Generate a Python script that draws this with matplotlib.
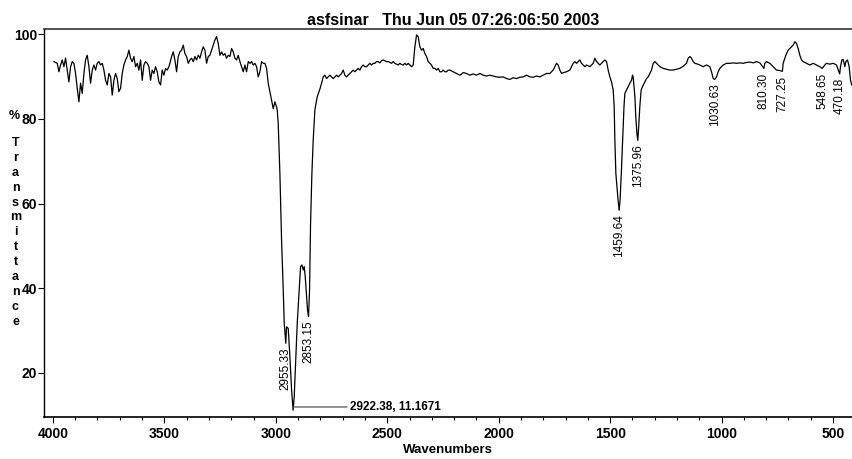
import matplotlib
matplotlib.use('Agg')
import matplotlib.pyplot as plt
from matplotlib.ticker import MultipleLocator
import numpy as np

plt.rcParams['font.family'] = ['Liberation Sans', 'DejaVu Sans']
plt.rcParams['font.weight'] = 'bold'

# спектр: волновые числа и пропускание (%)
wn = [
    3995.5, 3980.6, 3973.1, 3965.6, 3958.2, 3950.7, 3943.2, 3935.7, 3928.3, 3920.8,
    3913.3, 3905.8, 3898.3, 3890.9, 3883.4, 3875.9, 3868.4, 3861.0, 3853.5, 3846.0,
    3838.5, 3831.1, 3823.6, 3816.1, 3808.6, 3801.2, 3793.7, 3786.2, 3778.7, 3771.2,
    3763.8, 3756.3, 3748.8, 3741.3, 3733.9, 3726.4, 3718.9, 3711.4, 3704.0, 3696.5,
    3689.0, 3681.5, 3674.0, 3666.6, 3659.1, 3651.6, 3644.1, 3636.7, 3629.2, 3621.7,
    3614.2, 3606.8, 3599.3, 3591.8, 3584.3, 3576.8, 3569.4, 3561.9, 3554.4, 3546.9,
    3539.5, 3532.0, 3524.5, 3517.0, 3509.6, 3502.1, 3494.6, 3487.1, 3479.7,
    3475.1, 3467.6, 3460.1, 3452.7, 3445.2, 3437.7, 3430.2, 3422.8, 3415.3, 3407.8,
    3400.3, 3392.9, 3385.4, 3377.9, 3370.4, 3362.9, 3355.5, 3348.0, 3340.5, 3333.0,
    3325.6, 3318.1, 3310.6, 3303.1, 3295.7, 3288.2, 3280.7, 3273.2, 3265.8, 3258.3,
    3250.8, 3243.3, 3235.9, 3228.4, 3220.9, 3213.4, 3205.9, 3198.5, 3191.0, 3183.5,
    3176.0, 3168.6, 3161.1, 3153.6, 3146.1, 3138.7, 3131.2, 3123.7, 3116.2, 3108.8,
    3101.3, 3093.8, 3086.3, 3078.9, 3071.4, 3063.9, 3056.4, 3048.9, 3041.5, 3034.0,
    3026.5, 3019.0, 3011.6, 3004.1, 2996.6,
    2993.6, 2989.2, 2981.7, 2974.2, 2966.7, 2962.2, 2955.3, 2951.8, 2944.3, 2936.8,
    2929.3, 2922.4, 2917.4, 2909.9, 2903.9, 2895.0, 2889.0, 2883.0, 2877.0, 2872.5,
    2868.0, 2862.1, 2857.6, 2853.2, 2848.6, 2844.1, 2838.1, 2832.2, 2824.7, 2814.2,
    2802.3,
    2794.8, 2787.3, 2779.9, 2772.4, 2764.9, 2757.4, 2750.0, 2742.5, 2735.0, 2727.5,
    2720.0, 2712.6, 2705.1, 2697.6, 2690.1, 2682.7, 2675.2, 2667.7, 2660.2, 2652.8,
    2645.3, 2637.8, 2630.3, 2622.8, 2615.4, 2607.9, 2600.4, 2592.9, 2585.5, 2578.0,
    2570.5, 2563.0, 2555.6, 2548.1, 2540.6, 2533.1, 2525.7, 2518.2, 2510.7, 2503.2,
    2495.7, 2488.3, 2480.8, 2473.3, 2465.8, 2458.4, 2450.9, 2443.4, 2435.9, 2428.5,
    2421.0, 2413.5, 2406.0, 2398.6, 2391.1, 2383.6, 2376.1, 2368.6, 2361.2, 2353.7,
    2346.2, 2338.7, 2331.3, 2323.8, 2316.3, 2308.8, 2301.4, 2293.9, 2286.4, 2278.9,
    2271.4, 2264.0, 2256.5, 2249.0, 2241.5, 2234.1, 2226.6,
    2219.1, 2204.2, 2189.2, 2174.2, 2159.3, 2144.3, 2129.4, 2114.4, 2099.5, 2084.5,
    2069.6, 2054.6, 2039.7, 2024.7, 2009.8, 1994.8, 1979.9, 1964.9, 1949.9, 1935.0,
    1920.0, 1905.1, 1890.1, 1875.2, 1860.2, 1845.3, 1830.3, 1815.4, 1800.4, 1785.5,
    1770.5, 1755.6, 1740.6, 1733.1, 1725.6, 1718.2, 1710.7, 1695.7, 1680.8, 1673.3,
    1665.8, 1658.4, 1650.9, 1643.4, 1635.9, 1628.5, 1621.0, 1613.5, 1606.0, 1591.1,
    1576.1, 1568.6, 1561.2, 1553.7,
    1546.2, 1538.7, 1531.2, 1523.8, 1516.3, 1508.8, 1501.3, 1493.9, 1486.4, 1481.9,
    1478.9, 1474.4, 1464.5, 1459.6, 1455.5, 1450.0, 1444.0, 1438.0, 1434.1, 1426.6,
    1419.1, 1411.6, 1404.1, 1399.7, 1396.7, 1389.0, 1385.0, 1380.0, 1376.0, 1372.0,
    1367.0, 1361.0, 1354.8, 1344.3, 1336.9, 1329.4, 1321.9, 1314.4, 1306.9, 1299.5,
    1292.0, 1284.5, 1277.0, 1262.1, 1247.1, 1232.2, 1217.2, 1202.3, 1187.3, 1172.4,
    1157.4, 1149.9, 1142.5, 1135.0, 1127.5, 1120.0,
    1112.6, 1097.6, 1082.7, 1067.7, 1052.8, 1045.3, 1037.8, 1030.6, 1022.9, 1015.4,
    1007.9, 1000.4, 993.0, 978.0, 963.0, 948.1, 933.1, 918.2, 903.2, 888.3,
    873.3, 858.4, 843.4, 828.5, 821.0, 810.3, 806.0, 798.6, 783.6, 768.7,
    753.7, 738.7, 727.3, 723.8, 716.3, 708.8, 701.3, 693.9, 686.4, 678.9,
    671.4, 664.0, 656.5, 649.0, 641.5, 634.1, 619.1, 604.2, 589.2, 574.3,
    559.3, 548.7, 536.9, 529.4, 514.4, 499.5, 484.5, 470.2, 466.6, 460.6,
    454.6, 447.1, 442.7, 435.2, 427.7, 421.7, 416.0,
]
tr = [
    93.5, 93.1, 91.1, 92.7, 93.9, 92.3, 94.3, 91.5, 88.7, 92.3,
    93.5, 93.1, 90.7, 87.2, 84.0, 88.4, 86.0, 90.7, 93.9, 95.0,
    92.3, 88.4, 91.5, 92.7, 91.5, 93.1, 93.5, 92.7, 93.1, 91.5,
    89.1, 88.0, 90.7, 89.9, 85.6, 89.1, 90.7, 89.5, 86.4, 87.2,
    90.7, 92.7, 93.9, 94.7, 96.2, 94.3, 93.5, 94.7, 92.3, 93.1,
    91.5, 93.9, 89.1, 92.7, 93.5, 93.1, 92.3, 89.1, 91.5, 90.7,
    92.3, 91.1, 88.7, 88.0, 91.5, 90.3, 91.9, 91.5, 92.3,
    93.1, 94.7, 95.8, 93.9, 91.1, 94.7, 95.8, 96.2, 97.4, 95.4,
    94.7, 93.1, 93.9, 94.3, 93.5, 94.7, 93.9, 95.0, 94.3, 95.8,
    97.0, 96.2, 93.1, 94.7, 95.0, 96.2, 97.4, 98.6, 99.4, 97.8,
    95.0, 95.8, 95.0, 95.4, 94.3, 95.0, 94.7, 96.6, 95.8, 94.3,
    93.9, 95.0, 93.5, 92.3, 91.1, 92.7, 91.1, 93.5, 93.1, 93.5,
    92.7, 93.1, 92.3, 89.9, 91.1, 93.5, 93.1, 93.1, 91.9, 88.4,
    86.4, 84.4, 82.4, 84.0, 82.8,
    82.1, 78.9, 67.1, 51.4, 39.6, 31.7, 27.0, 30.9, 30.5, 23.8,
    16.0, 11.2, 14.4, 23.8, 31.7, 39.6, 45.1, 45.5, 44.3, 45.1,
    42.7, 38.0, 34.8, 33.3, 39.6, 55.3, 67.1, 75.0, 82.1, 85.2,
    87.0,
    88.4, 89.9, 90.3, 89.5, 89.9, 90.3, 89.9, 89.5, 89.9, 90.3,
    89.9, 90.3, 90.7, 91.5, 90.3, 89.9, 90.3, 90.7, 91.1, 91.5,
    91.1, 91.5, 91.9, 91.5, 92.3, 92.7, 92.3, 92.3, 92.7, 93.1,
    92.7, 93.1, 93.1, 93.5, 93.5, 93.2, 93.7, 93.9, 93.7, 93.5,
    93.5, 93.3, 93.1, 93.5, 93.1, 92.9, 92.7, 93.1, 92.8, 92.7,
    93.1, 92.7, 93.1, 92.7, 92.3, 92.7, 97.0, 99.8, 99.4, 97.0,
    96.2, 96.6, 95.4, 94.7, 93.5, 93.1, 92.7, 91.9, 91.9, 91.5,
    91.9, 91.1, 91.1, 91.5, 91.1, 91.1, 91.5,
    91.5, 91.1, 90.7, 90.3, 90.9, 90.7, 90.3, 90.6, 90.3, 90.7,
    90.3, 90.1, 90.3, 90.1, 89.9, 89.8, 89.9, 89.5, 89.3, 89.7,
    89.5, 89.8, 89.9, 90.3, 89.9, 89.8, 90.1, 89.9, 90.3, 90.7,
    90.7, 91.5, 93.1, 92.7, 91.5, 90.7, 90.9, 91.1, 91.5, 92.3,
    93.1, 93.5, 93.1, 93.5, 93.9, 93.1, 92.7, 92.3, 92.7, 92.3,
    93.1, 94.3, 93.5, 93.1,
    92.7, 93.1, 93.5, 93.9, 93.5, 91.5, 89.9, 88.7, 86.8, 82.8,
    75.0, 67.1, 60.8, 58.4, 60.8, 67.1, 75.0, 82.8, 86.0, 86.8,
    87.6, 88.4, 89.1, 90.3, 89.9, 85.2, 80.5, 76.5, 74.9, 78.1,
    82.8, 86.8, 87.6, 88.7, 89.5, 89.9, 90.7, 91.5, 93.1, 93.5,
    93.1, 92.7, 92.3, 91.9, 91.7, 91.5, 91.5, 91.7, 91.9, 92.4,
    93.1, 94.3, 94.7, 94.3, 93.5, 93.1,
    93.0, 92.7, 92.3, 92.7, 92.3, 91.1, 89.5, 89.3, 89.9, 91.1,
    91.9, 92.3, 92.7, 93.1, 93.1, 93.2, 93.1, 93.2, 93.1, 93.3,
    93.4, 93.2, 93.5, 93.2, 92.7, 91.9, 93.1, 93.5, 93.1, 92.3,
    91.5, 91.4, 91.2, 93.1, 94.3, 95.4, 96.2, 96.6, 97.0, 97.4,
    98.2, 97.8, 96.6, 95.0, 93.9, 93.5, 93.1, 92.7, 93.1, 92.7,
    92.3, 91.9, 92.7, 93.1, 92.9, 93.1, 92.7, 90.6, 92.3, 93.9,
    94.0, 92.3, 93.5, 93.9, 92.3, 89.1, 88.0,
]

# подписи пиков
peak_wn = [2955.33, 2853.15, 1459.64, 1375.96, 1030.63, 810.30, 727.25, 548.65, 470.18]
peak_tr = [27.0, 33.3, 58.4, 74.9, 89.3, 91.9, 91.2, 91.9, 90.6]
main_peak = (2922.38, 11.1671)

title = 'asfsinar   Thu Jun 05 07:26:06:50 2003'
ylabel_letters = 'Transmittance'

fig = plt.figure(figsize=(8.52, 4.59), dpi=100)
ax = fig.add_axes([44/852, 1 - 417/459, 1 - 44/852, 388/459])

ax.plot(wn, tr, color='black', lw=0.9)

ax.set_xlim(4040, 415)
ax.set_ylim(9.6, 101.2)
ax.xaxis.set_major_locator(MultipleLocator(500))
ax.xaxis.set_minor_locator(MultipleLocator(100))
ax.set_yticks([20, 40, 60, 80, 100])

ax.spines['right'].set_visible(False)
ax.spines['top'].set_color('#333333')
ax.spines['top'].set_linewidth(1.2)
ax.spines['left'].set_linewidth(1.0)
ax.spines['bottom'].set_linewidth(1.2)

ax.tick_params(axis='x', which='major', length=4, width=0.8, pad=3.5, labelsize=10)
ax.tick_params(axis='x', which='minor', length=2.5, width=0.8)
ax.tick_params(axis='y', which='major', length=4, width=0.8, pad=1, labelsize=10)
for lbl in ax.get_xticklabels() + ax.get_yticklabels():
    lbl.set_fontweight('bold')

for w, t in zip(peak_wn, peak_tr):
    ax.annotate('%.2f' % w, xy=(w, t), xytext=(0, -3), textcoords='offset points',
                rotation=90, ha='center', va='top', fontsize=8.5, fontweight='normal')

ax.annotate('%.2f, %.4f' % main_peak, xy=(main_peak[0], main_peak[1] + 0.8),
            xytext=(2668, main_peak[1] + 0.8), ha='left', va='center',
            fontsize=8.5, fontweight='bold',
            arrowprops=dict(arrowstyle='-', color='#555555', lw=0.9,
                            shrinkA=0, shrinkB=0))

ax.set_title(title, x=(453 - 44)/808, pad=3, fontsize=11.5, fontweight='bold')

fig.text(448/852, 1 - 450/459, 'Wavenumbers', ha='center', va='center',
         fontsize=9.5, fontweight='bold')

fig.text(14/852, 1 - 116/459, '%', ha='center', va='center', fontsize=9, fontweight='bold')
for i, ch in enumerate(ylabel_letters):
    fig.text(15.5/852, 1 - (143 + i*14.9)/459, ch, ha='center', va='center',
             fontsize=9, fontweight='bold')

fig.savefig('out.png', dpi=100)
